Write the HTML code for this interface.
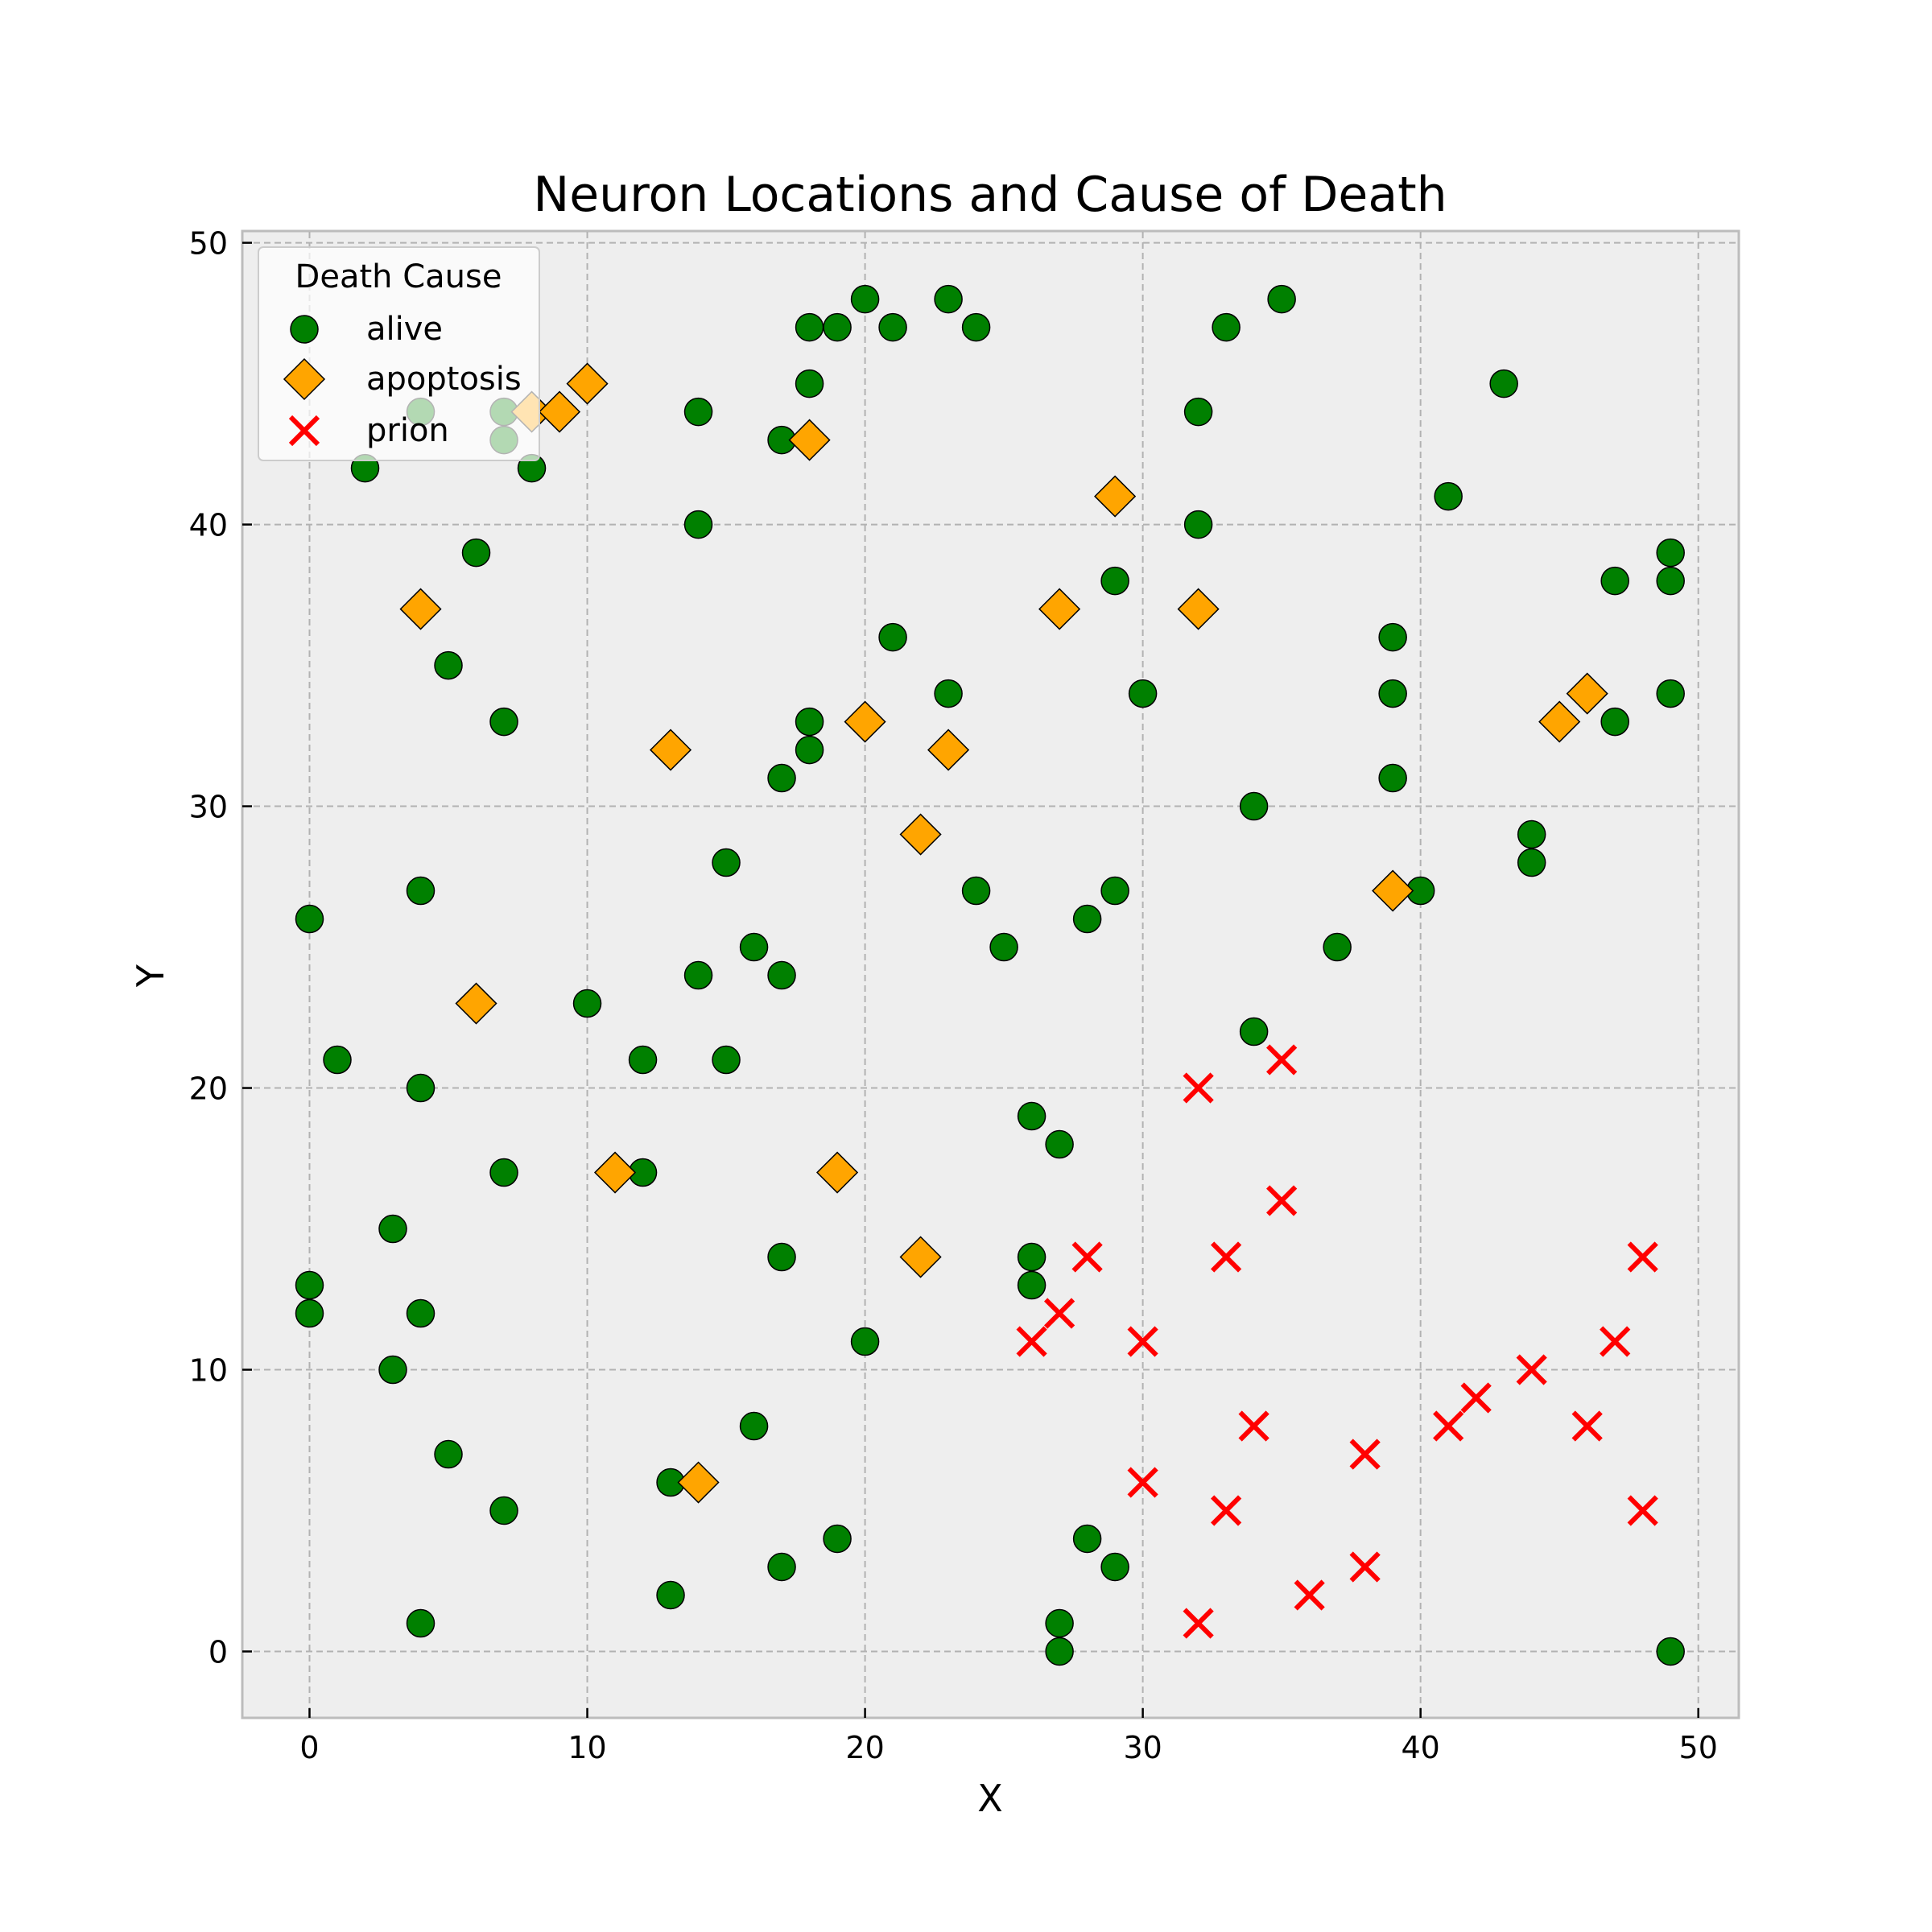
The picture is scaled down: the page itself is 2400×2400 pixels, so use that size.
<!DOCTYPE html>
<html><head><meta charset="utf-8"><style>body{margin:0;background:#fff}svg{display:block;font-family:"DejaVu Sans","Liberation Sans",sans-serif}</style></head>
<body>
<svg id="chart" width="2400" height="2400" viewBox="0 0 2400 2400">
<rect x="0" y="0" width="2400" height="2400" fill="#fff"/>
<rect x="301" y="287" width="1859" height="1847" fill="#eeeeee" stroke="#bcbcbc" stroke-width="3"/>
<g id="grid"></g>
<g id="marks"></g>
<g id="ticks"></g>
<text x="1230" y="262" font-size="60" text-anchor="middle" fill="#000">Neuron Locations and Cause of Death</text>
<text x="1230" y="2250" font-size="46" text-anchor="middle">X</text>
<text x="203" y="1212" font-size="46" text-anchor="middle" transform="rotate(-90 203 1212)">Y</text>
<g>
<rect x="321" y="307" width="349" height="265" rx="6" fill="#fff" fill-opacity="0.7" stroke="#ccc" stroke-width="2"/>
<text x="495" y="357" font-size="40" text-anchor="middle">Death Cause</text>
<circle cx="378" cy="409" r="17" fill="green" stroke="#000" stroke-width="1.5"/>
<text x="455" y="422" font-size="40">alive</text>
<path d="M378 446 L403 471 L378 496 L353 471 Z" fill="orange" stroke="#000" stroke-width="1.5"/>
<text x="455" y="484" font-size="40">apoptosis</text>
<path d="M361 518 L395 552 M395 518 L361 552" stroke="red" stroke-width="6"/>
<text x="455" y="548" font-size="40">prion</text>
</g>
</svg>
<script>
const xTicks=[0,10,20,30,40,50];
const yTicks=[0,10,20,30,40,50];
const aliveX=[0,1,0,0,2,3,3,4,4,4,4,4,5,5,6,7,7,7,7,7,8,10,12,12,13,13,14,14,14,15,15,16,16,17,17,17,17,17,18,18,18,18,19,19,20,20,21,21,23,23,24,24,25,26,26,26,27,27,27,28,28,29,29,29,30,32,32,33,34,34,35,37,39,39,39,40,41,43,44,44,47,47,49,49,49,49];
const aliveY=[26,21,13,12,42,15,10,44,27,20,12,1,35,7,39,44,43,33,17,5,42,23,21,17,6,2,44,40,24,28,21,25,8,43,31,24,14,3,47,45,33,32,47,4,48,11,47,36,48,34,47,27,25,19,14,13,18,1,0,26,4,38,27,3,34,44,40,47,30,22,48,25,36,34,31,27,41,45,29,28,38,33,39,38,34,0];
const apopX=[4,6,8,9,10,11,13,14,18,19,20,22,22,23,27,29,32,39,45,46];
const apopY=[37,23,44,44,45,17,32,6,43,17,33,29,14,32,37,41,37,27,33,34];
const prionX=[26,27,28,30,30,32,32,33,33,34,35,35,36,38,38,41,42,44,46,47,48,48];
const prionY=[11,12,14,11,6,20,1,14,5,8,21,16,2,7,3,8,9,10,8,11,14,5];
const NS='http://www.w3.org/2000/svg';
const sx=v=>384.5+v*(2109.7-384.5)/50;
const sy=v=>2051.5-v*(2051.5-301.6)/50;
function mk(t,a,p){const e=document.createElementNS(NS,t);for(const k in a)e.setAttribute(k,a[k]);p.appendChild(e);return e;}
const grid=document.getElementById('grid'),ticks=document.getElementById('ticks'),marks=document.getElementById('marks');
xTicks.forEach(v=>{
 const l=mk('line',{x1:sx(v),x2:sx(v),y1:288,y2:2133,stroke:'#b2b2b2','stroke-width':2,'stroke-dasharray':'8,5'},grid);
 
 
 const m=mk('line',{x1:sx(v),x2:sx(v),y1:2134,y2:2122,stroke:'#000','stroke-width':2.5},ticks);
 
 
 const t=mk('text',{x:sx(v),y:2184,'font-size':38,'text-anchor':'middle'},ticks);t.textContent=v;
 
 
});
yTicks.forEach(v=>{
 const l=mk('line',{x1:302,x2:2159,y1:sy(v),y2:sy(v),stroke:'#b2b2b2','stroke-width':2,'stroke-dasharray':'8,5'},grid);
 
 
 const m=mk('line',{x1:301,x2:313,y1:sy(v),y2:sy(v),stroke:'#000','stroke-width':2.5},ticks);
 
 
 const t=mk('text',{x:283,y:sy(v)+14,'font-size':38,'text-anchor':'end'},ticks);t.textContent=v;
 
 
});
aliveX.forEach((x,i)=>{
 const c=mk('circle',{cx:sx(x),cy:sy(aliveY[i]),r:17,fill:'green',stroke:'#000','stroke-width':1.5},marks);
 
 
});
apopX.forEach((x,i)=>{
 const cx=sx(x),cy=sy(apopY[i]);
 const d=mk('path',{d:`M${cx} ${cy-25} L${cx+25} ${cy} L${cx} ${cy+25} L${cx-25} ${cy} Z`,fill:'orange',stroke:'#000','stroke-width':1.5},marks);
 
 
});
prionX.forEach((x,i)=>{
 const cx=sx(x),cy=sy(prionY[i]),s=17;
 const d=mk('path',{d:`M${cx-s} ${cy-s} L${cx+s} ${cy+s} M${cx+s} ${cy-s} L${cx-s} ${cy+s}`,stroke:'red','stroke-width':6},marks);
 
 
});
</script>
</body></html>
